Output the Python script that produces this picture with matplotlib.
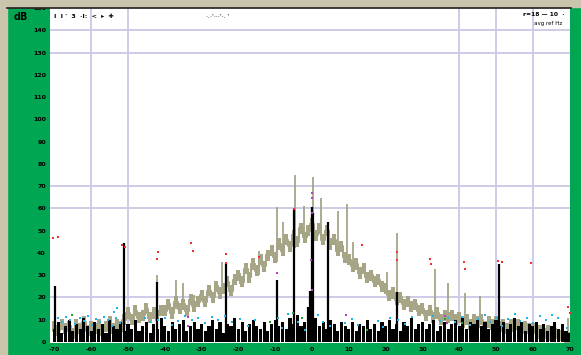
import numpy as np
from matplotlib import pyplot as plt
from matplotlib.patches import Rectangle
from matplotlib.lines import Line2D

# days relative to event, level in arbitrary units (0..150)
days = np.arange(-70, 71)

band = [7, 5, 8, 6, 7, 4, 8, 6, 9, 5, 7, 6, 8, 5, 7, 9, 6, 8, 7, 10,
        13, 10, 14, 11, 12, 15, 11, 13, 12, 14,
        14, 17, 13, 18, 15, 17, 14, 19, 16, 18,
        21, 18, 23, 20, 25, 22, 24, 27, 23, 28,
        30, 27, 33, 29, 35, 32, 37, 34, 39, 41,
        38, 44, 41, 46, 43, 48, 45, 51, 47, 50,
        53, 48, 51, 46, 50, 44, 46, 41, 43, 38,
        37, 34, 35, 31, 33, 29, 30, 27, 28, 25,
        24, 21, 22, 19, 20, 17, 18, 16, 17, 14,
        15, 12, 14, 11, 13, 10, 12, 11, 12, 10,
        11, 9, 10, 8, 10, 9, 10, 7, 9, 8,
        9, 7, 8, 6, 8, 7, 8, 6, 7, 6,
        6, 4, 5, 4, 5, 3, 4, 3, 3, 2, 2]

noise = [6, 9, 4, 7, 10, 5, 8, 6, 11, 7, 5, 9, 6, 8, 4, 10, 7, 6, 9, 5,
         8, 6, 10, 5, 7, 9, 4, 8, 6, 11,
         7, 5, 9, 6, 8, 10, 5, 7, 9, 6,
         8, 5, 7, 10, 6, 9, 4, 8, 7, 11,
         6, 9, 5, 8, 10, 7, 6, 9, 5, 8,
         10, 7, 9, 6, 11, 8, 12, 7, 9, 10,
         8, 11, 7, 9, 6, 10, 8, 5, 9, 7,
         6, 9, 5, 8, 7, 10, 6, 8, 5, 9,
         7, 10, 6, 8, 5, 9, 7, 11, 6, 8,
         9, 6, 8, 10, 5, 7, 9, 6, 8, 10,
         7, 11, 6, 9, 8, 10, 7, 9, 6, 8,
         10, 7, 9, 6, 8, 11, 7, 9, 5, 8,
         7, 9, 6, 8, 5, 7, 9, 6, 8, 5, 4]

band_spike_x = [-42, -37, -35, -32, -24.5, -19.5, -14.4, -9.5, -8, -4.6, -2.2, 0.3,
                2.5, 7, 9.5, 11, 20.4, 23, 33.4, 37, 41.6, 45.6, 69.6]
band_spike_lo = [10, 15, 15, 16, 22, 26, 30, 36, 40, 42, 45, 47,
                 46, 40, 36, 32, 21, 19, 11, 10, 9, 8, 2]
band_spike_hi = [30, 28, 26.5, 21, 36, 31, 41, 60.6, 54, 75, 61, 74,
                 64.7, 59, 62, 45, 31.4, 49, 33, 26.5, 22, 20.7, 10.8]

peak_x = [-69.8, -51.1, -42.1, -23.4, -9.5, -4.9, -1.1, -0.5, 0, 0.4, 4.3, 23.1, 50.8]
peak_y = [25.1, 44.5, 27, 35.5, 27.8, 59.7, 15.7, 23, 60.6, 58, 53.9, 22.5, 35]

cyan_x = [-69.0, -67.9, -66.8, -65.8, -64.4, -63.0, -61.9, -60.9, -59.8, -58.7, -57.6,
          -56.5, -55.4, -54.3, -53.3, -52.2, -53.8, -53.0, -45.4, -44.0, -41.8, -39.9,
          -38.0, -36.4, -34.5, -32.6, -31.0, -29.1, -27.2, -25.5, -23.6, -21.7, -19.6,
          -17.4, -15.5, -9.2, -8.2, -6.5, -3.8, -1.9, 1.6, 3.0, 4.9, 9.0, 10.9, 12.5,
          17.9, 19.3, 21.2, 23.4, 25.3, 27.2, 32.9, 34.8, 37.0, 38.9, 40.8, 42.9, 45.1,
          47.0, 48.4, 50.0, 51.6, 53.3, 55.2, 56.5, 58.4, 60.1, 62.0, 63.6, 65.2, 66.8, 69.3]
cyan_y = [10.8, 9.0, 11.2, 9.9, 8.1, 10.8, 9.4, 11.7, 7.6, 10.3, 9.0,
          11.2, 9.9, 7.2, 10.8, 8.5, 13.5, 15.3, 10.8, 9.0, 9.9, 10.8,
          7.6, 9.4, 11.7, 9.9, 10.8, 8.5, 11.2, 9.9, 11.7, 9.0, 10.3,
          7.2, 9.9, 10.8, 6.3, 12.6, 9.0, 5.4, 12.1, 9.0, 7.2, 8.5, 10.3, 7.6,
          9.4, 6.7, 10.8, 9.9, 8.1, 11.2, 11.7, 9.4, 10.8, 9.0, 11.2, 7.6, 10.3,
          12.1, 9.0, 10.8, 7.2, 10.3, 12.6, 9.4, 10.8, 8.5, 11.7, 9.9, 12.1, 10.8, 6.3]

red_x = [-70.4, -69.0, -51.6, -50.8, -41.8, -42.1, -32.9, -32.3, -23.4, -23.4, -14.4,
         -4.9, 13.6, 23.1, 23.1, 32.1, 32.3, 41.3, 41.6, 50.5, 51.6, 59.5, 69.6, 70.1]
red_y = [46.7, 47.1, 43.6, 42.7, 40.4, 37.3, 44.5, 40.9, 39.5, 35.5, 38.2,
         59.7, 43.6, 40.4, 36.8, 37.3, 35.0, 35.9, 32.8, 36.4, 35.9, 35.5, 15.7, 13.0]

mag_x = [0, 0, -0.3, 0, -9.5, 9.2, -33.7, -33.7, 36.1, 36.7, 0]
mag_y = [66.9, 57.9, 36.8, 23.3, 31.0, 12.1, 11.2, 7.2, 11.7, 8.5, 64.5]

green_x = [-65.2, -5.2, -2.7, 14.9, 36.1, 40.8, -11.4]
green_y = [12.1, 13.0, 10.8, 5.4, 10.3, 8.5, 9.0]

xticks = np.arange(-70, 71, 10)
xlabels = [str(v) for v in xticks]
yticks = np.arange(0, 151, 10)
ylabels = [str(v) for v in yticks]
grid_y = [20, 60, 70, 130, 140]
grid_x = [-60, -50, 40, 50, 60]

green = '#00a651'
beige = '#c9c5ad'
lav = '#cdcbe6'
khaki = '#a6a586'

W, H = 581, 355
fig = plt.figure(figsize=(W / 100, H / 100), dpi=100, facecolor=green)
fig.patches.append(Rectangle((0, 0), 7 / W, 1, transform=fig.transFigure, color=beige, zorder=0))
fig.patches.append(Rectangle((0, 1 - 7 / H), 1, 7 / H, transform=fig.transFigure, color=beige, zorder=0))
fig.lines.append(Line2D([7 / W, 1 - 10 / W], [1 - 8 / H, 1 - 8 / H], transform=fig.transFigure,
                        color='#202020', lw=1.2))

ax = fig.add_axes([50 / W, (H - 343) / H, 520 / W, 335 / H])
ax.set_facecolor('white')
for s in ax.spines.values():
    s.set_visible(False)

for g in grid_y:
    ax.axhline(g, color=lav, lw=1.4, zorder=0)
for g in grid_x:
    ax.axvline(g, color=lav, lw=1.4, zorder=0)

# thick jagged band: one short vertical bar per day
band = np.array(band)
ax.vlines(band_spike_x, band_spike_lo, band_spike_hi, color=khaki, lw=1.3, zorder=1)
ax.vlines(days, band - 2.5, band + 2.5, color=khaki, lw=2.9, zorder=2)
ax.plot(days, band, color=khaki, lw=1.5, drawstyle='steps-mid', zorder=2)
ax.bar(days, noise, width=0.85, color='black', zorder=3)
ax.vlines(peak_x, 0, peak_y, color='black', lw=1.6, zorder=4)

ax.plot(cyan_x, cyan_y, 's', color='#1eb4f0', ms=2.1, mew=0, zorder=5)
ax.plot(red_x, red_y, 's', color='#f03030', ms=2.0, mew=0, zorder=5)
ax.plot(mag_x, mag_y, 's', color='#b040c0', ms=2.0, mew=0, zorder=5)
ax.plot(green_x, green_y, 's', color='#20a040', ms=2.0, mew=0, zorder=5)

ax.set_xlim(-71.2, 70.1)
ax.set_ylim(-0.45, 150)
ax.set_xticks(xticks)
ax.set_xticklabels(xlabels, fontsize=4.5, fontweight='bold')
ax.set_yticks(yticks)
ax.set_yticklabels(ylabels, fontsize=4.5, fontweight='bold')
ax.tick_params(length=0, pad=3)
ax.set_yticks([0] + grid_y, minor=True)
ax.tick_params(axis='y', which='minor', length=3, width=1, color='black', direction='out')

fig.text(14 / W, 1 - 17 / H, 'dB', fontsize=7, fontweight='bold', va='center')
ax.text(0.008, 0.975, 'I  I \'  3  ·I:  <  ▸  ✚', transform=ax.transAxes,
        fontsize=4.5, fontweight='bold', va='center')
ax.text(0.3, 0.975, '·.·\'···\'·. \'', transform=ax.transAxes, fontsize=4.5, va='center')
ax.text(0.99, 0.982, 'r=18 — 10  ·', transform=ax.transAxes, fontsize=4.3,
        fontweight='bold', ha='right', va='center')
ax.text(0.985, 0.955, 'avg ref Hz', transform=ax.transAxes, fontsize=4,
        ha='right', va='center')

plt.savefig('out.png', dpi=100, facecolor=fig.get_facecolor())
